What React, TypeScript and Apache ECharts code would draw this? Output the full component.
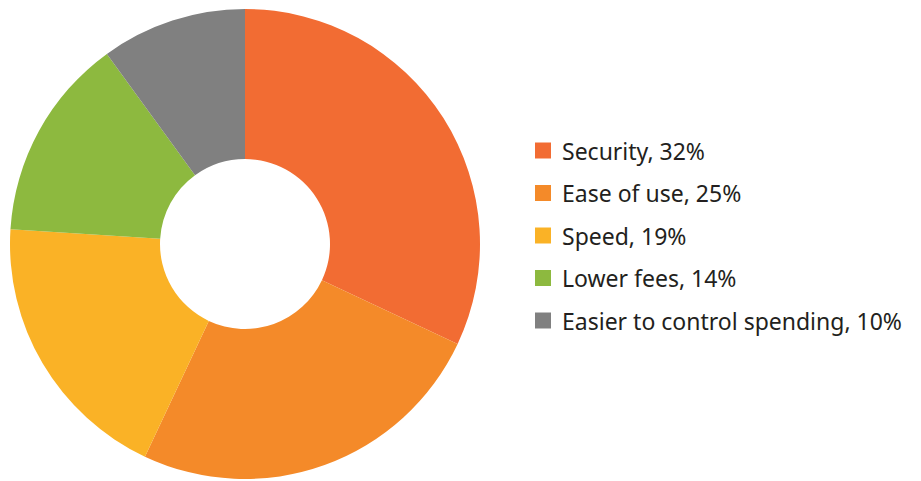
import React, { useEffect, useRef } from "react";
import * as echarts from "echarts";

const categories = ["Security", "Ease of use", "Speed", "Lower fees", "Easier to control spending"];
const values = [32, 25, 19, 14, 10];
const colors = ["#F26C33", "#F48A29", "#FAB226", "#8DB93F", "#808080"];

export default function App() {
  const ref = useRef<HTMLDivElement>(null);
  useEffect(() => {
    if (!ref.current) return;
    const chart = echarts.init(ref.current, undefined, { renderer: "svg" });
    chart.setOption({
      animation: false,
      color: colors,
      legend: {
        orient: "vertical",
        left: 535,
        top: 139,
        itemWidth: 16,
        itemHeight: 16,
        itemGap: 19.5,
        icon: "rect",
        padding: 0,
        selectedMode: false,
        formatter: (name: string) => {
          const i = categories.indexOf(name);
          return `${name}, ${values[i]}%`;
        },
        textStyle: {
          fontFamily: "Noto Sans",
          fontSize: 23,
          lineHeight: 23,
          color: "#231f20",
          padding: [0, 0, 0, 6],
        },
      },
      series: [
        {
          type: "pie",
          center: [245, 244],
          radius: [85, 235],
          startAngle: 90,
          clockwise: true,
          label: { show: false },
          labelLine: { show: false },
          emphasis: { disabled: true },
          itemStyle: { borderWidth: 0 },
          data: categories.map((c, i) => ({ name: c, value: values[i] })),
        },
      ],
    });
    return () => chart.dispose();
  }, []);
  return (
    <div
      ref={ref}
      style={{ position: "absolute", left: 0, top: 0, width: 921, height: 481 }}
    />
  );
}
